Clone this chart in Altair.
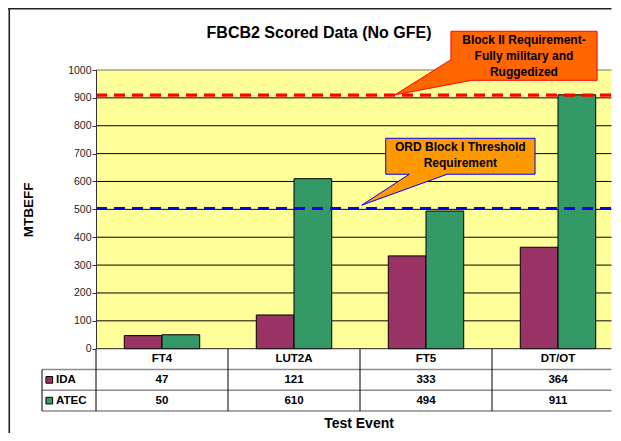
import altair as alt
import pandas as pd

# ---------------- data ----------------
categories = ["FT4", "LUT2A", "FT5", "DT/OT"]
series_names = ["IDA", "ATEC"]
ida_values = [47, 121, 333, 364]
atec_values = [50, 610, 494, 911]
series_colors = ["#993366", "#339966"]
y_ticks = [0, 100, 200, 300, 400, 500, 600, 700, 800, 900, 1000]
requirement_values = [910, 503]
requirement_colors = ["#FF0000", "#0000FF"]
title_text = "FBCB2 Scored Data (No GFE)"
y_title = "MTBEFF"
x_title = "Test Event"
block2_lines = ["Block II Requirement-", "Fully military and", "Ruggedized"]
ord_lines = ["ORD Block I Threshold", "Requirement"]
table_rows = ["head", "IDA", "ATEC"]

# callout outlines, in (category units, MTBEFF units)
block2_shape_u = [2.689, 3.796, 3.796, 2.846, 2.265, 2.689, 2.689]
block2_shape_v = [1139, 1139, 963, 963, 911, 1037, 1139]
block2_text_u = [3.242, 3.242, 3.242]
block2_text_v = [1107, 1051, 992]
ord_shape_u = [2.195, 3.326, 3.326, 2.661, 2.013, 2.374, 2.195, 2.195]
ord_shape_v = [755, 755, 626, 626, 515, 626, 626, 755]
ord_text_u = [2.760, 2.760]
ord_text_v = [725, 667]

# ---------------- layout ----------------
W, H = 605, 425
PL, PR = 88, 616
PB, PT = 340.7, 62
TB = 403
LC = 34
FONT = "Liberation Sans"

x_cat = alt.Scale(type="band", domain=categories, range=[PL, PR], paddingInner=0, paddingOuter=0)
x_u = alt.Scale(domain=[0, len(categories)], range=[PL, PR])
y_v = alt.Scale(domain=[y_ticks[0], y_ticks[-1]], range=[PB, PT])
y_row = alt.Scale(type="band", domain=table_rows, range=[PB, TB], paddingInner=0, paddingOuter=0)
y_edge = alt.Scale(domain=[0, len(table_rows)], range=[PB, TB])

one = pd.DataFrame({"a": [0]})
n = len(categories)

# left and top edges of the chart frame
frame_left = alt.Chart(one).mark_rule(color="#222222", strokeWidth=1.5).encode(
    x=alt.value(1.3), y=alt.value(0), y2=alt.value(H))
frame_top = alt.Chart(one).mark_rule(color="#222222", strokeWidth=1.5).encode(
    x=alt.value(0), x2=alt.value(W), y=alt.value(0.75))

# plot background
bg_df = pd.DataFrame({"u0": [0], "u1": [n], "v0": [y_ticks[0]], "v1": [y_ticks[-1]]})
bg = alt.Chart(bg_df).mark_rect(fill="#FFFF99").encode(
    x=alt.X("u0:Q", scale=x_u, axis=None), x2="u1:Q",
    y=alt.Y("v0:Q", scale=y_v, axis=None), y2="v1:Q")

# gridlines
grid_df = pd.DataFrame({"v": y_ticks[1:-1], "u0": 0, "u1": n})
grid = alt.Chart(grid_df).mark_rule(color="#000000", strokeWidth=1).encode(
    x=alt.X("u0:Q", scale=x_u, axis=None), x2="u1:Q",
    y=alt.Y("v:Q", scale=y_v, axis=None))

top_df = pd.DataFrame({"v": [y_ticks[-1]], "u0": 0, "u1": n})
top_line = alt.Chart(top_df).mark_rule(color="#A9A66E", strokeWidth=1.5).encode(
    x=alt.X("u0:Q", scale=x_u, axis=None), x2="u1:Q",
    y=alt.Y("v:Q", scale=y_v, axis=None))

# bars
bar_rows = []
for s, vals in zip(series_names, [ida_values, atec_values]):
    for c, v in zip(categories, vals):
        bar_rows.append({"cat": c, "series": s, "value": v})
bars_df = pd.DataFrame(bar_rows)

bars = alt.Chart(bars_df).mark_bar(stroke="#000000", strokeWidth=1).encode(
    x=alt.X("cat:N", scale=x_cat, axis=None, sort=categories),
    xOffset=alt.XOffset("series:N", sort=series_names,
                        scale=alt.Scale(domain=series_names, paddingInner=0, paddingOuter=0.75)),
    y=alt.Y("value:Q", scale=y_v, axis=alt.Axis(
        values=y_ticks, format="d", offset=-PL, grid=False, zindex=1,
        tickSize=4, tickColor="#333333", domainColor="#333333", domainWidth=1,
        labelFontSize=10.5, labelColor="#222222", labelPadding=1, labelFont=FONT,
        title=y_title, titleFontSize=13.5, titleFontWeight="bold", titleFont=FONT,
        titleColor="#000000", titleAngle=270, titleX=20.3 - PL, titleY=(PB + PT) / 2,
        titleBaseline="middle", titleAlign="center")),
    color=alt.Color("series:N", scale=alt.Scale(domain=series_names, range=series_colors), legend=None),
)

# requirement lines
req_df = pd.DataFrame({"v": requirement_values, "c": requirement_colors, "u0": 0, "u1": n})
req = alt.Chart(req_df).mark_rule(strokeWidth=3.2, strokeDash=[11, 7]).encode(
    x=alt.X("u0:Q", scale=x_u, axis=None), x2="u1:Q",
    y=alt.Y("v:Q", scale=y_v, axis=None),
    stroke=alt.Stroke("c:N", scale=None))


def callout(us, vs, fill, stroke):
    df = pd.DataFrame({"o": list(range(len(us))), "u": us, "v": vs})
    return alt.Chart(df).mark_line(fill=fill, stroke=stroke, strokeWidth=1, interpolate="linear").encode(
        x=alt.X("u:Q", scale=x_u, axis=None),
        y=alt.Y("v:Q", scale=y_v, axis=None),
        order="o:Q")


def callout_text(us, vs, lines):
    df = pd.DataFrame({"u": us, "v": vs, "t": lines})
    return alt.Chart(df).mark_text(fontSize=12, fontWeight="bold", font=FONT, color="#000000",
                                   align="center", baseline="middle").encode(
        x=alt.X("u:Q", scale=x_u, axis=None),
        y=alt.Y("v:Q", scale=y_v, axis=None),
        text="t:N")


c1 = callout(block2_shape_u, block2_shape_v, "#FF6600", "#FF0000")
c1t = callout_text(block2_text_u, block2_text_v, block2_lines)
c2 = callout(ord_shape_u, ord_shape_v, "#FF9900", "#0000FF")
c2t = callout_text(ord_text_u, ord_text_v, ord_lines)

# data table: vertical cell borders (black) and row separators (grey)
vlines_df = pd.DataFrame({"u": list(range(n))})
vlines = alt.Chart(vlines_df).mark_rule(color="#000000", strokeWidth=1).encode(
    x=alt.X("u:Q", scale=x_u, axis=None),
    y=alt.value(PB), y2=alt.value(TB))
left_vline = alt.Chart(one).mark_rule(color="#000000", strokeWidth=1).encode(
    x=alt.value(LC),
    y=alt.Y("e:Q", scale=y_edge, axis=None), y2="e2:Q",
).transform_calculate(e="1", e2=str(len(table_rows)))
hlines_df = pd.DataFrame({"e": list(range(1, len(table_rows) + 1))})
hlines = alt.Chart(hlines_df).mark_rule(color="#8C8C8C", strokeWidth=1.5).encode(
    x=alt.value(LC), x2=alt.value(W),
    y=alt.Y("e:Q", scale=y_edge, axis=None))
axis_line = alt.Chart(one).mark_rule(color="#222222", strokeWidth=1).encode(
    x=alt.value(PL), x2=alt.value(W),
    y=alt.Y("e:Q", scale=y_edge, axis=None),
).transform_calculate(e="0")

text_rows = [{"cat": c, "row": "head", "t": c} for c in categories]
for s, vals in zip(series_names, [ida_values, atec_values]):
    for c, v in zip(categories, vals):
        text_rows.append({"cat": c, "row": s, "t": str(v)})
text_df = pd.DataFrame(text_rows)
table_text = alt.Chart(text_df).mark_text(fontSize=11.5, fontWeight="bold", font=FONT, color="#000000",
                                          align="center", baseline="middle").encode(
    x=alt.X("cat:N", scale=x_cat, sort=categories, axis=alt.Axis(
        orient="bottom", labels=False, ticks=False, domain=False, grid=False,
        title=x_title, titleFontSize=14, titleFontWeight="bold", titleFont=FONT,
        titleColor="#000000", titleX=350.5, titleY=415.3 - H, titleBaseline="middle")),
    y=alt.Y("row:N", scale=y_row, axis=None, sort=table_rows),
    text="t:N")

leg_df = pd.DataFrame({"row": series_names})
leg_sq = alt.Chart(leg_df).mark_square(size=45, filled=True, stroke="#000000", strokeWidth=1, opacity=1).encode(
    x=alt.value(41.3),
    y=alt.Y("row:N", scale=y_row, axis=None, sort=table_rows),
    fill=alt.Fill("row:N", scale=alt.Scale(domain=series_names, range=series_colors), legend=None))
leg_txt = alt.Chart(leg_df).mark_text(fontSize=11.5, fontWeight="bold", font=FONT, color="#000000",
                                      align="left", baseline="middle").encode(
    x=alt.value(48),
    y=alt.Y("row:N", scale=y_row, axis=None, sort=table_rows),
    text="row:N")

# keep the right edge of the drawing clean
edge_cover = alt.Chart(one).mark_rule(color="#FFFFFF", strokeWidth=1.5).encode(
    x=alt.value(W - 0.75), y=alt.value(0), y2=alt.value(H))

chart = alt.layer(
    frame_left, frame_top, bg, grid, top_line, bars, req, c1, c1t, c2, c2t,
    hlines, vlines, left_vline, axis_line, table_text, leg_sq, leg_txt, edge_cover,
).resolve_scale(
    x="independent", y="independent", color="independent", fill="independent", stroke="independent"
).properties(
    width=W, height=H, padding=0,
    autosize=alt.AutoSizeParams(type="none"),
    title=alt.Title(title_text, fontSize=16, fontWeight="bold", font=FONT, color="#000000",
                    anchor="middle", frame="group", offset=-33.7, dx=8.5),
).configure_view(stroke="transparent", strokeWidth=0).configure(background="white")

chart.save("out.html", embed_options={"renderer": "svg", "actions": False})
